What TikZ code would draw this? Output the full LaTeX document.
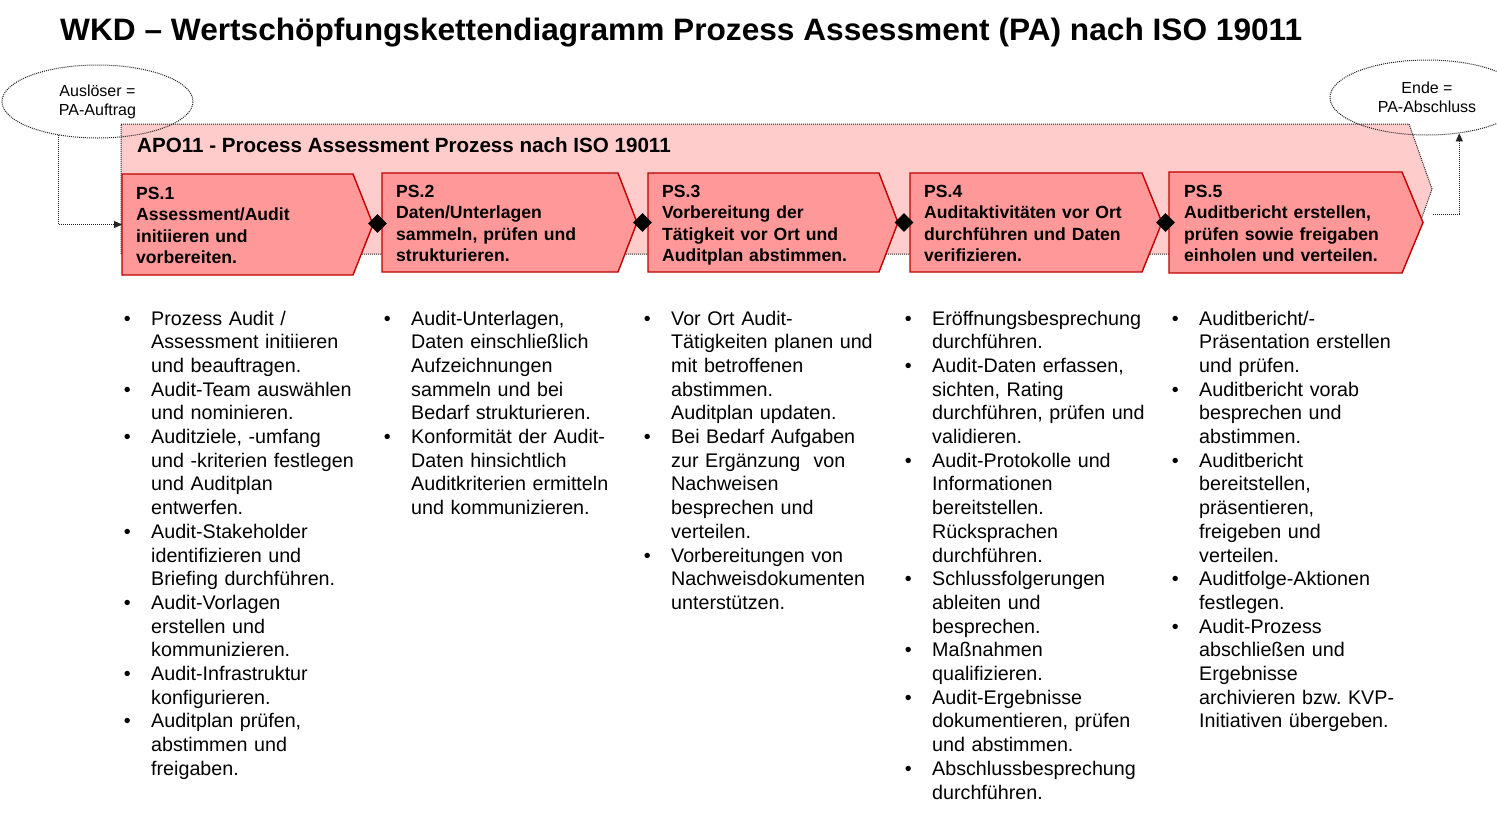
\documentclass[tikz,border=0pt]{standalone}
\usepackage{fontspec}
\setmainfont{Liberation Sans}
\usepackage{graphicx}
\usetikzlibrary{shapes.geometric,arrows.meta,calc}
\definecolor{bgpink}{HTML}{FFCCCC}
\definecolor{chevfill}{HTML}{FF9999}
\definecolor{chevline}{HTML}{C00000}
\definecolor{dotc}{HTML}{222222}
\frenchspacing
\newcommand\wkdbul{\leavevmode\llap{\textbullet\hspace{20.5pt}}}
\newcommand\wkdchev[6]{%
  \draw[chev] (#2,#3) -- (#5,#3) -- (#6,{(#3+#4)/2}) -- (#5,#4) -- (#2,#4) -- cycle;
  \coordinate (#1w) at (#2,{(#3+#4)/2});
  \coordinate (#1e) at (#6,{(#3+#4)/2});
}
\tikzset{
 dotline/.style={draw=dotc, line width=1pt, dash pattern=on 1pt off 1pt},
 bgchev/.style={dotline, fill=bgpink},
 chev/.style={fill=chevfill, draw=chevline, line width=1.4pt, line join=miter},
 chevtext/.style={anchor=base west, inner sep=0pt, align=left, text width=245pt, font=\bfseries\fontsize{17.6}{21.5}\selectfont},
 listtext/.style={anchor=base west, inner sep=0pt, align=left, text width=250pt, font=\fontsize{19.7}{23.7}\selectfont},
 oval/.style={ellipse, dotline, inner sep=0pt, align=center, font=\fontsize{16}{19}\selectfont},
 conn/.style={dotline, -{Triangle[length=8pt,width=7pt]}},
 gate/.style={diamond, fill=black, inner sep=0pt, minimum width=19pt, minimum height=19pt},
}
\begin{document}
\begin{tikzpicture}[x=1pt,y=-1pt]
\clip (0,0) rectangle (1497,817);
\fill[white] (0,0) rectangle (1497,817);
% title
\node[anchor=base west, inner sep=0pt] (title) at (60,40)
  {\resizebox{1242pt}{\height}{\bfseries\fontsize{31}{36}\selectfont WKD – Wertschöpfungskettendiagramm Prozess Assessment (PA) nach ISO 19011}};
% background process chevron
\draw[bgchev] (121,124) -- (1409,124) -- (1432,189) -- (1409,254) -- (121,254) -- cycle;
\coordinate (bgout) at (1433,214);
\node[anchor=base west, inner sep=0pt, font=\bfseries\fontsize{20.6}{24}\selectfont] (apo) at (137,152) {APO11 - Process Assessment Prozess nach ISO 19011};
% start / end events
\node[oval, minimum width=191pt, minimum height=73pt] (e1) at (97.5,101.5) {Auslöser =\\PA-Auftrag};
\node[oval, minimum width=194pt, minimum height=75pt] (e2) at (1427,97.5) {Ende =\\PA-Abschluss};
% process step chevrons
\wkdchev{c1}{122}{174}{275}{353}{373}
\wkdchev{c2}{382}{173}{272}{618}{637}
\wkdchev{c3}{648}{173}{272}{879}{898}
\wkdchev{c4}{910}{173}{272}{1142}{1162}
\wkdchev{c5}{1169}{172}{273}{1402}{1423}
\node[chevtext] (ps1) at (136,199) {PS.1\\Assessment/Audit\\initiieren und\\vorbereiten.};
\node[chevtext] (ps2) at (396,197) {PS.2\\Daten/Unterlagen\\sammeln, prüfen und\\strukturieren.};
\node[chevtext] (ps3) at (662,197) {PS.3\\Vorbereitung der\\Tätigkeit vor Ort und\\Auditplan abstimmen.};
\node[chevtext] (ps4) at (924,197) {PS.4\\Auditaktivitäten vor Ort\\durchführen und Daten\\verifizieren.};
\node[chevtext] (ps5) at (1184,197) {PS.5\\Auditbericht erstellen,\\prüfen sowie freigaben\\einholen und verteilen.};
% gates
\node[gate] (g1) at ($(c1e)!0.5!(c2w)$) {};
\node[gate] (g2) at ($(c2e)!0.5!(c3w)$) {};
\node[gate] (g3) at ($(c3e)!0.5!(c4w)$) {};
\node[gate] (g4) at ($(c4e)!0.5!(c5w)$) {};
% connectors
\draw[conn] (e1.221) |- (c1w);
\draw[conn] (bgout) -| (e2.312);
% activity lists
\node[listtext] (l1) at (151,325) {\wkdbul Prozess Audit /\\Assessment initiieren\\und beauftragen.\\
\wkdbul Audit-Team auswählen\\und nominieren.\\
\wkdbul Auditziele, -umfang\\und -kriterien festlegen\\und Auditplan\\entwerfen.\\
\wkdbul Audit-Stakeholder\\identifizieren und\\Briefing durchführen.\\
\wkdbul Audit-Vorlagen\\erstellen und\\kommunizieren.\\
\wkdbul Audit-Infrastruktur\\konfigurieren.\\
\wkdbul Auditplan prüfen,\\abstimmen und\\freigaben.};
\node[listtext] (l2) at (411,325) {\wkdbul Audit-Unterlagen,\\Daten einschließlich\\Aufzeichnungen\\sammeln und bei\\Bedarf strukturieren.\\
\wkdbul Konformität der Audit-\\Daten hinsichtlich\\Auditkriterien ermitteln\\und kommunizieren.};
\node[listtext] (l3) at (671,325) {\wkdbul Vor Ort Audit-\\Tätigkeiten planen und\\mit betroffenen\\abstimmen.\\Auditplan updaten.\\
\wkdbul Bei Bedarf Aufgaben\\zur Ergänzung\ \ von\\Nachweisen\\besprechen und\\verteilen.\\
\wkdbul Vorbereitungen von\\Nachweisdokumenten\\unterstützen.};
\node[listtext] (l4) at (932,325) {\wkdbul Eröffnungsbesprechung\\durchführen.\\
\wkdbul Audit-Daten erfassen,\\sichten, Rating\\durchführen, prüfen und\\validieren.\\
\wkdbul Audit-Protokolle und\\Informationen\\bereitstellen.\\Rücksprachen\\durchführen.\\
\wkdbul Schlussfolgerungen\\ableiten und\\besprechen.\\
\wkdbul Maßnahmen\\qualifizieren.\\
\wkdbul Audit-Ergebnisse\\dokumentieren, prüfen\\und abstimmen.\\
\wkdbul Abschlussbesprechung\\durchführen.};
\node[listtext] (l5) at (1199,325) {\wkdbul Auditbericht/-\\Präsentation erstellen\\und prüfen.\\
\wkdbul Auditbericht vorab\\besprechen und\\abstimmen.\\
\wkdbul Auditbericht\\bereitstellen,\\präsentieren,\\freigeben und\\verteilen.\\
\wkdbul Auditfolge-Aktionen\\festlegen.\\
\wkdbul Audit-Prozess\\abschließen und\\Ergebnisse\\archivieren bzw. KVP-\\Initiativen übergeben.};
\end{tikzpicture}
\end{document}
